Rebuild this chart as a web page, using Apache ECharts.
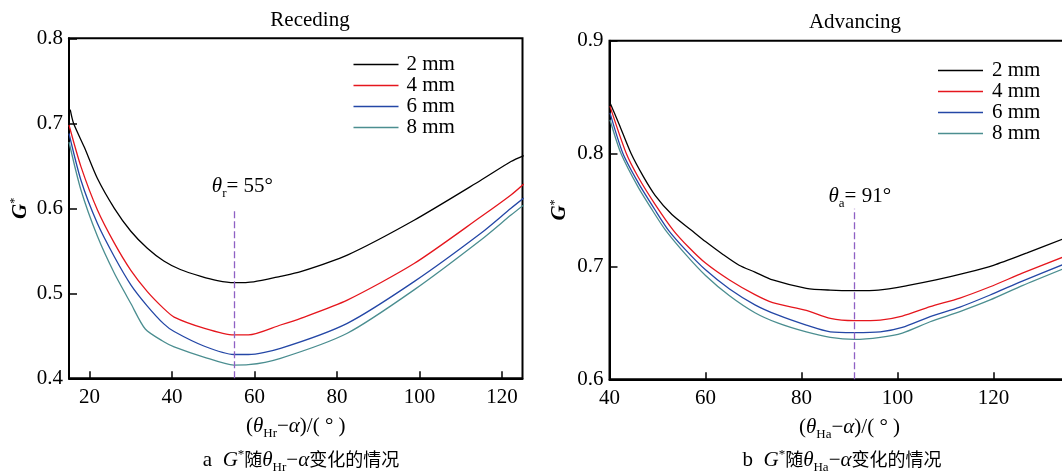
<!DOCTYPE html>
<html><head><meta charset="utf-8">
<script src="https://cdn.jsdelivr.net/npm/echarts@6/dist/echarts.min.js"></script>
<style>html,body{margin:0;padding:0;background:#fff;overflow:hidden}#c{width:1062px;height:473px}</style>
</head><body><div id="c"></div>
<script>
// ---------- data ----------
const seriesNames = ['2 mm', '4 mm', '6 mm', '8 mm'];
const seriesColors = ['#000000', '#e5161d', '#2447a6', '#4b8e90'];

// (a) Receding: [theta_Hr - alpha (deg), G*]
const rec2mm = [[15.3,0.716],[16.1,0.700],[18.7,0.672],[21.9,0.635],[26,0.600],[30,0.573],[34,0.553],[38,0.538],[42,0.528],[47,0.520],[51,0.515],[55,0.5125],[59.8,0.5135],[66.3,0.520],[71.2,0.5255],[82.5,0.545],[98.7,0.586],[114.9,0.633],[122.2,0.655],[125.3,0.662]];
const rec4mm = [[15,0.698],[17.9,0.649],[21.9,0.598],[26,0.559],[30,0.527],[34,0.502],[38,0.482],[40.5,0.472],[47.7,0.459],[55,0.451],[58.5,0.451],[66.3,0.4627],[71.2,0.4706],[82.5,0.492],[98.7,0.535],[114.9,0.590],[122.2,0.6157],[125.3,0.6286]];
const rec6mm = [[15,0.688],[17.9,0.633],[21.9,0.582],[26,0.543],[30,0.510],[34,0.485],[38,0.464],[40.5,0.455],[47.7,0.438],[55,0.428],[58.5,0.428],[66.3,0.4353],[82.5,0.4647],[98.7,0.5137],[114.9,0.5706],[122.2,0.600],[125.3,0.612]];
const rec8mm = [[15,0.678],[17.9,0.6215],[21.9,0.567],[26,0.5235],[30,0.488],[33.5,0.458],[38,0.443],[40.5,0.437],[47.7,0.425],[55,0.4156],[58.5,0.416],[66.3,0.4235],[82.5,0.453],[98.7,0.504],[114.9,0.5627],[122.2,0.592],[125.3,0.604]];

// (b) Advancing: [theta_Ha - alpha (deg), G*]
const adv2mm = [[40.1,0.845],[42,0.826],[44.5,0.800],[47,0.780],[49.5,0.763],[53,0.746],[57,0.7323],[60,0.722],[63.5,0.711],[67,0.701],[70.3,0.695],[74,0.688],[81,0.6806],[86,0.679],[91,0.6785],[96,0.679],[102,0.683],[108,0.688],[114,0.694],[120,0.701],[127,0.712],[134.3,0.724]];
const adv4mm = [[40.1,0.842],[43.5,0.800],[46,0.779],[49.5,0.755],[53.3,0.732],[56.5,0.717],[60,0.703],[65,0.688],[70.3,0.675],[74,0.668],[81,0.661],[86,0.654],[91,0.652],[96.4,0.6525],[101,0.656],[106.8,0.6643],[113,0.672],[119.3,0.682],[126,0.694],[134.3,0.708]];
const adv6mm = [[40.1,0.836],[42.8,0.800],[46,0.774],[49.5,0.750],[52.3,0.732],[56,0.714],[60,0.697],[65,0.680],[70.3,0.666],[75,0.657],[81,0.648],[86,0.642],[91,0.6413],[96.4,0.642],[101,0.646],[106.8,0.6555],[113,0.664],[119.3,0.6747],[126,0.687],[134.3,0.7013]];
const adv8mm = [[40.1,0.830],[42.4,0.800],[46,0.770],[49.5,0.746],[51.7,0.732],[56,0.710],[60,0.692],[65,0.674],[70.3,0.659],[75,0.650],[81,0.642],[86,0.6372],[91,0.6354],[96.4,0.6372],[101,0.641],[106.8,0.651],[113,0.660],[119.3,0.6703],[126,0.683],[134.3,0.6975]];

const recXTicks = [20, 40, 60, 80, 100, 120];
const advXTicks = [40, 60, 80, 100, 120, 140];
const recYRange = [0.4, 0.8];
const advYRange = [0.6, 0.9];
const recXRange = [15, 125];
const advXRange = [40, 140];

const recMark = { x: 55, yFrom: 0.4, yTo: 0.6, sub: 'r', label: '= 55°' };
const advMark = { x: 91, yFrom: 0.6, yTo: 0.751, sub: 'a', label: '= 91°' };

// ---------- styles ----------
const SERIF = '"Liberation Serif", "Times New Roman", serif';
const CJK = '"Noto Sans CJK SC", sans-serif';
const BLACK = '#000';
const MARK_COLOR = '#8e60c4';
const FS = 21;

const subRich = {
  n: { fontFamily: SERIF, fontSize: FS, color: BLACK, lineHeight: 26, verticalAlign: 'bottom', padding: [0, 0, 3, 0] },
  i: { fontFamily: SERIF, fontSize: FS, fontStyle: 'italic', color: BLACK, lineHeight: 26, verticalAlign: 'bottom', padding: [0, 0, 3, 0] },
  s: { fontFamily: SERIF, fontSize: 13, color: BLACK, lineHeight: 13, verticalAlign: 'bottom' },
  sup: { fontFamily: SERIF, fontSize: 13, color: BLACK, lineHeight: 13, verticalAlign: 'top' },
  c: { fontFamily: CJK, fontSize: 18, color: BLACK, lineHeight: 26, verticalAlign: 'bottom', padding: [0, 0, 6, 0] }
};

function xAxisDef(gi, range, ticks, nameSub) {
  return {
    gridIndex: gi, type: 'value', min: range[0], max: range[1],
    axisLine: { onZero: false, lineStyle: { color: BLACK, width: 2 } },
    axisTick: { inside: true, length: 7, customValues: ticks, lineStyle: { color: BLACK, width: 1.5 } },
    axisLabel: { customValues: ticks, color: BLACK, fontFamily: SERIF, fontSize: FS, margin: 9 },
    splitLine: { show: false },
    name: '{n|(}{i|θ}{s|H' + nameSub + '}{n|−}{i|α}{n|)/( ° )}',
    nameLocation: 'middle', nameGap: 36,
    nameTextStyle: { rich: subRich }
  };
}
function yAxisDef(gi, range, gap) {
  return {
    gridIndex: gi, type: 'value', min: range[0], max: range[1], interval: 0.1,
    axisLine: { onZero: false, lineStyle: { color: BLACK, width: 2 } },
    axisTick: { inside: true, length: 8, lineStyle: { color: BLACK, width: 1.5 } },
    axisLabel: { color: BLACK, fontFamily: SERIF, fontSize: FS, margin: 6, formatter: v => v.toFixed(1) },
    splitLine: { show: false },
    name: '{g|G}{sup|*}', nameLocation: 'middle', nameGap: gap, nameRotate: 90,
    nameTextStyle: { rich: {
      g: { fontFamily: SERIF, fontSize: 21, fontStyle: 'italic', fontWeight: 'bold', color: BLACK, lineHeight: 22, verticalAlign: 'bottom' },
      sup: { fontFamily: SERIF, fontSize: 12, color: BLACK, lineHeight: 12, verticalAlign: 'top' }
    } }
  };
}

function makeSeries(gi, datasets, mark, labelDist, labelShift) {
  return datasets.map((d, k) => {
    const s = {
      name: seriesNames[k], type: 'line', xAxisIndex: gi, yAxisIndex: gi,
      data: d, symbol: 'none', showSymbol: false, smooth: 0.25,
      lineStyle: { color: seriesColors[k], width: 1.3 },
      itemStyle: { color: seriesColors[k] }, z: 3
    };
    if (k === 0) {
      s.markLine = {
        silent: true, symbol: 'none', animation: false,
        lineStyle: { type: [7, 3], color: MARK_COLOR, width: 1.3 },
        label: {
          show: true, position: 'end', distance: labelDist,
          padding: [0, 0, 0, labelShift],
          formatter: '{i|θ}{s|' + mark.sub + '}{n|' + mark.label + '}',
          rich: subRich
        },
        data: [[{ coord: [mark.x, mark.yFrom] }, { coord: [mark.x, mark.yTo] }]]
      };
    }
    return s;
  });
}

function legendDef(left, top, pad) {
  return {
    orient: 'vertical', left: left, top: top, icon: 'rect', itemWidth: 45, itemHeight: 1.4, itemGap: 0,
    textStyle: { fontFamily: SERIF, fontSize: FS, color: BLACK, padding: [0, 0, 0, pad] }, data: seriesNames
  };
}

const chart = echarts.init(document.getElementById('c'), null, { renderer: 'canvas' });
chart.setOption({
  backgroundColor: '#fff',
  animation: false,
  grid: [
    { left: 69, top: 38.3, width: 453.5, height: 340, show: true, borderColor: BLACK, borderWidth: 2, backgroundColor: 'transparent', outerBoundsMode: 'none', containLabel: false },
    { left: 609.5, top: 40.7, width: 480, height: 338.6, show: true, borderColor: BLACK, borderWidth: 2, backgroundColor: 'transparent', outerBoundsMode: 'none', containLabel: false }
  ],
  xAxis: [xAxisDef(0, recXRange, recXTicks, 'r'), xAxisDef(1, advXRange, advXTicks, 'a')],
  yAxis: [yAxisDef(0, recYRange, 38), yAxisDef(1, advYRange, 39)],
  legend: [legendDef(348.5, 49, 3), legendDef(933, 55, 4)],
  graphic: [
    { type: 'text', x: 310, y: 20, style: { text: 'Receding', fontFamily: SERIF, fontSize: FS, fill: BLACK, align: 'center', verticalAlign: 'middle' } },
    { type: 'text', x: 855, y: 22, style: { text: 'Advancing', fontFamily: SERIF, fontSize: FS, fill: BLACK, align: 'center', verticalAlign: 'middle' } },
    { type: 'text', x: 301, y: 461, style: { text: '{n|a  }{i|G}{sup|*}{c|随}{i|θ}{s|Hr}{n|−}{i|α}{c|变化的情况}', rich: subRich, align: 'center', verticalAlign: 'middle' } },
    { type: 'text', x: 842, y: 461, style: { text: '{n|b  }{i|G}{sup|*}{c|随}{i|θ}{s|Ha}{n|−}{i|α}{c|变化的情况}', rich: subRich, align: 'center', verticalAlign: 'middle' } }
  ],
  series: [
    ...makeSeries(0, [rec2mm, rec4mm, rec6mm, rec8mm], recMark, 8, 17),
    ...makeSeries(1, [adv2mm, adv4mm, adv6mm, adv8mm], advMark, -1, 11)
  ]
});
</script></body></html>
